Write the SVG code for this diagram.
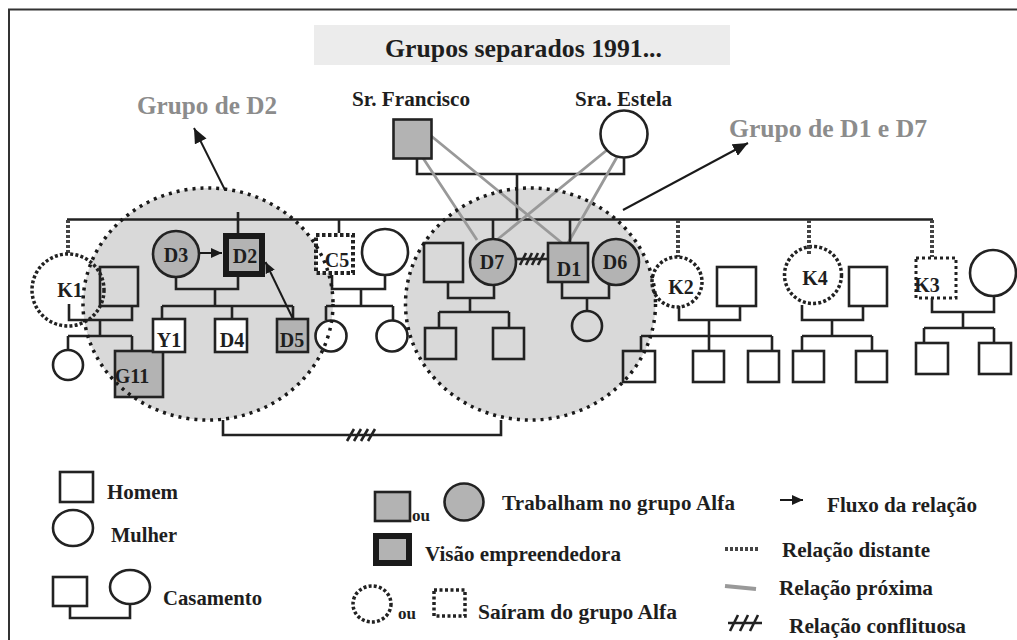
<svg xmlns="http://www.w3.org/2000/svg" width="1017" height="640" viewBox="0 0 1017 640">
<defs>
<style>
.ln{fill:none;stroke:#222;stroke-width:2.6}
.nd{stroke:#222;stroke-width:2.6}
.w{fill:#fff}
.n{fill:none}
.g{fill:#b3b3b3}
.vis{fill:#b3b3b3;stroke:#1a1a1a;stroke-width:6}
.dist{fill:none;stroke:#222;stroke-width:3.5;stroke-dasharray:3 2.2}
.distw{fill:#fff;stroke:#222;stroke-width:3.5;stroke-dasharray:3 2.2}
.distl{fill:none;stroke:#444;stroke-width:4;stroke-dasharray:3 2}
.close{fill:none;stroke:#999;stroke-width:2.8}
.area{fill:#d9d9d9}
.bord{fill:none;stroke:#1a1a1a;stroke-width:3.5;stroke-dasharray:3 5}
.arr{fill:none;stroke:#1a1a1a;stroke-width:2}
.t{font-family:"Liberation Serif","Times New Roman",serif;font-weight:bold;fill:#1e1e1e}
.lab{font-size:20px;text-anchor:middle}
.leg{font-size:21px}
.ou{font-size:17px}
.grp{font-size:25px;fill:#8c8c8c}
.hash{fill:none;stroke:#222;stroke-width:2.6}
</style>
<marker id="ah" viewBox="0 0 10 10" refX="10" refY="5" markerWidth="15" markerHeight="13" preserveAspectRatio="none" markerUnits="userSpaceOnUse" orient="auto"><path d="M0,0 L10,5 L0,10 z" fill="#1a1a1a"/></marker>
<marker id="ahs" viewBox="0 0 10 10" refX="10" refY="5" markerWidth="11" markerHeight="10" preserveAspectRatio="none" markerUnits="userSpaceOnUse" orient="auto"><path d="M0,0 L10,5 L0,10 z" fill="#1a1a1a"/></marker>
</defs>

<path d="M9,640 V9.5 H1017" fill="none" stroke="#333" stroke-width="2"/>

<g id="title">
<rect x="314" y="25" width="416" height="40" fill="#ececec"/>
<text class="t" x="385" y="57" font-size="25" textLength="277" lengthAdjust="spacingAndGlyphs">Grupos separados 1991...</text>
</g>

<g id="grupo-d2-area"><ellipse class="area" cx="208" cy="304" rx="125" ry="116"/></g>
<g id="grupo-d1-d7-area"><ellipse class="area" cx="530.5" cy="304" rx="125" ry="116"/></g>

<g id="connectors">
<path class="ln" d="M417,159 V174 H624 V157.5 M517,174 V220"/>
<path class="ln" d="M67,219.5 H933"/>
<path class="close" d="M430,135 L562,243 M423,158 L477,240 M607,150 L498,239 M617,157 L568,243"/>
<!-- K1 -->
<path class="distl" d="M68,220 V254"/>
<path class="ln" d="M69,304 V320 H132 V306 M100,320 V336 M68,336 H132 M68,336 V350 M132,336 V351"/>
<!-- D2 -->
<path class="ln" d="M238,212 V233 M176,277 V289 H238 V277 M215,289 V306 M162,306 H293 M162,306 V319 M232,306 V319 M293,306 V319"/>
<path class="arr" d="M199,253 L222,253" marker-end="url(#ahs)"/>
<path class="arr" d="M293,319 L265.5,262" marker-end="url(#ahs)"/>
<!-- C5 -->
<path class="ln" d="M339,220 V233 M332,275 V289 H385 V275 M361,289 V306 M326,306 H393 M326,306 V320 M393,306 V320"/>
<!-- D7 / D1 -->
<path class="ln" d="M493,220 V239 M448,282 V298 H494 V285 M470,298 V312 M439,312 H509 M439,312 V328 M509,312 V328"/>
<path class="ln" d="M570,220 V243 M562,282 V298 H609 V284 M587,298 V311"/>
<path class="ln" d="M516,259 H548"/>
<path class="hash" d="M520,265 L526,253 M526,265 L532,253 M532,265 L538,253 M538,265 L544,253"/>
<!-- K2 -->
<path class="distl" d="M678,220 V257"/>
<path class="ln" d="M679,306 V320 H740 V306 M709,320 V336 M641,336 H772 M641,336 V351 M709,336 V351 M772,336 V351"/>
<!-- K4 -->
<path class="distl" d="M809,220 V247"/>
<path class="ln" d="M802,305 V320 H863 V306 M832,320 V336 M802,336 H872 M802,336 V351 M872,336 V351"/>
<!-- K3 -->
<path class="distl" d="M932,220 V257"/>
<path class="ln" d="M932,298 V312 H994 V296 M963,312 V328 M924,328 H994 M924,328 V343 M994,328 V343"/>
<!-- groups -->
<path class="ln" d="M223,420 V435 H501 V420"/>
<path class="hash" d="M347,441 L354,429 M354,441 L361,429 M361,441 L368,429 M368,441 L375,429"/>
<path class="arr" d="M225,190 L194,128" marker-end="url(#ah)"/>
<path class="arr" d="M623,210 L748,143" marker-end="url(#ah)"/>
</g>

<g id="sr-francisco">
<rect class="nd g" x="393.5" y="119.5" width="38" height="39"/>
<text class="t" x="411" y="106" font-size="20" text-anchor="middle" textLength="118" lengthAdjust="spacingAndGlyphs">Sr. Francisco</text>
</g>
<g id="sra-estela">
<circle class="nd w" cx="624" cy="134" r="23.5"/>
<text class="t" x="623.5" y="106" font-size="20" text-anchor="middle" textLength="97" lengthAdjust="spacingAndGlyphs">Sra. Estela</text>
</g>

<g id="k1">
<circle class="dist" cx="68" cy="290" r="36"/>
<text class="t lab" x="70" y="297">K1</text>
</g>
<g id="k1-marido"><rect class="nd n" x="100" y="267" width="38" height="39"/></g>
<g id="k1-filha"><circle class="nd w" cx="68" cy="365" r="15"/></g>
<g id="g11">
<rect class="nd g" x="115" y="351" width="48" height="46"/>
<text class="t lab" x="132" y="383">G11</text>
</g>
<g id="d3">
<circle class="nd g" cx="176" cy="254" r="23"/>
<text class="t lab" x="176" y="262">D3</text>
</g>
<g id="d2">
<rect class="vis" x="226" y="236" width="36" height="38"/>
<text class="t lab" x="245" y="263">D2</text>
</g>
<g id="y1">
<rect class="nd w" x="153" y="319" width="32" height="33"/>
<text class="t lab" x="169" y="347">Y1</text>
</g>
<g id="d4">
<rect class="nd w" x="215" y="319" width="32" height="33"/>
<text class="t lab" x="232" y="347">D4</text>
</g>
<g id="d5">
<rect class="nd g" x="277" y="319" width="31" height="33"/>
<text class="t lab" x="292" y="347">D5</text>
</g>

<g id="c5">
<rect x="316" y="235" width="37" height="38" fill="#fff" stroke="#222" stroke-width="4" stroke-dasharray="3.5 2.5"/>
<text class="t lab" x="337" y="267">C5</text>
</g>
<g id="c5-esposa"><circle class="nd w" cx="385" cy="252" r="23"/></g>
<g id="c5-filha1"><circle class="nd w" cx="331" cy="336" r="15.5"/></g>
<g id="c5-filha2"><circle class="nd w" cx="392" cy="336" r="15.5"/></g>

<g id="d7-marido"><rect class="nd n" x="424" y="243" width="39" height="39"/></g>
<g id="d7">
<circle class="nd g" cx="493" cy="262" r="23"/>
<text class="t lab" x="492" y="269">D7</text>
</g>
<g id="d7-filho1"><rect class="nd n" x="425" y="328" width="31" height="31"/></g>
<g id="d7-filho2"><rect class="nd n" x="493" y="328" width="31" height="31"/></g>
<g id="d1">
<rect class="nd g" x="548" y="243" width="40" height="39"/>
<text class="t lab" x="569" y="276">D1</text>
</g>
<g id="d6">
<circle class="nd g" cx="616" cy="262" r="23"/>
<text class="t lab" x="615" y="269">D6</text>
</g>
<g id="d1-filha"><circle class="nd n" cx="587" cy="326" r="15"/></g>

<g id="k2">
<circle class="dist" cx="677" cy="282" r="25"/>
<text class="t lab" x="681" y="294">K2</text>
</g>
<g id="k2-marido"><rect class="nd w" x="717" y="267" width="39" height="39"/></g>
<g id="k2-filho1"><rect class="nd n" x="623" y="351" width="32" height="31"/></g>
<g id="k2-filho2"><rect class="nd w" x="693" y="351" width="31" height="31"/></g>
<g id="k2-filho3"><rect class="nd w" x="748" y="351" width="31" height="31"/></g>

<g id="k4">
<circle class="distw" cx="813" cy="275" r="28.5"/>
<path class="distl" d="M809,246 V254"/>
<text class="t lab" x="815" y="285">K4</text>
</g>
<g id="k4-marido"><rect class="nd w" x="849" y="267" width="38" height="39"/></g>
<g id="k4-filho1"><rect class="nd w" x="793" y="351" width="31" height="31"/></g>
<g id="k4-filho2"><rect class="nd w" x="856" y="351" width="31" height="31"/></g>

<g id="k3">
<rect x="916" y="258" width="40" height="40" fill="none" stroke="#222" stroke-width="3" stroke-dasharray="3 3"/>
<text class="t lab" x="927" y="292">K3</text>
</g>
<g id="k3-esposa"><circle class="nd w" cx="993" cy="273" r="23"/></g>
<g id="k3-filho1"><rect class="nd w" x="916" y="343" width="32" height="31"/></g>
<g id="k3-filho2"><rect class="nd w" x="979" y="343" width="32" height="31"/></g>

<g id="grupo-d2-border"><ellipse class="bord" cx="208" cy="304" rx="125" ry="116"/></g>
<g id="grupo-d1-d7-border"><ellipse class="bord" cx="530.5" cy="304" rx="125" ry="116"/></g>

<g id="label-grupo-d2"><text class="t grp" x="137" y="114" textLength="140" lengthAdjust="spacingAndGlyphs">Grupo de D2</text></g>
<g id="label-grupo-d1-d7"><text class="t grp" x="729" y="137" textLength="198" lengthAdjust="spacingAndGlyphs">Grupo de D1 e D7</text></g>

<g id="legend">
<rect class="nd w" x="60" y="472" width="33" height="30"/>
<text class="t leg" x="107" y="499" textLength="71" lengthAdjust="spacingAndGlyphs">Homem</text>
<ellipse class="nd w" cx="73" cy="528" rx="20" ry="18"/>
<text class="t leg" x="111" y="542" textLength="66" lengthAdjust="spacingAndGlyphs">Mulher</text>
<rect class="nd w" x="53" y="577" width="34" height="29"/>
<ellipse class="nd w" cx="130" cy="587" rx="20" ry="17"/>
<path class="ln" d="M70,606 V618 H130 V604"/>
<text class="t leg" x="163" y="605" textLength="99" lengthAdjust="spacingAndGlyphs">Casamento</text>

<rect class="nd g" x="375" y="492" width="35" height="29"/>
<text class="t ou" x="412" y="521">ou</text>
<ellipse class="nd g" cx="464" cy="502" rx="19.5" ry="18.5"/>
<text class="t leg" x="502" y="510" textLength="233" lengthAdjust="spacing">Trabalham no grupo Alfa</text>
<rect class="vis" x="376" y="536" width="33" height="27"/>
<text class="t leg" x="425" y="561" textLength="196" lengthAdjust="spacingAndGlyphs">Visão empreendedora</text>
<ellipse class="dist" cx="372" cy="604" rx="19" ry="18"/>
<text class="t ou" x="398" y="619">ou</text>
<rect x="434" y="590" width="31" height="26" fill="none" stroke="#222" stroke-width="3.5" stroke-dasharray="3 2.5"/>
<text class="t leg" x="478" y="619" textLength="199" lengthAdjust="spacingAndGlyphs">Saíram do grupo  Alfa</text>

<path class="arr" d="M780,500 L803,500" stroke-width="2.5" marker-end="url(#ahs)"/>
<text class="t leg" x="827" y="512" textLength="150" lengthAdjust="spacingAndGlyphs">Fluxo da relação</text>
<path class="distl" d="M725,549 H760" stroke-width="3.5"/>
<text class="t leg" x="782" y="557" textLength="148" lengthAdjust="spacingAndGlyphs">Relação distante</text>
<path d="M725,586 L756,589" stroke="#999" stroke-width="4"/>
<text class="t leg" x="779" y="595" textLength="154" lengthAdjust="spacingAndGlyphs">Relação próxima</text>
<path class="hash" d="M728,623 H762 M730,631 L738,615 M740,631 L748,615 M750,631 L758,615"/>
<text class="t leg" x="789" y="633" textLength="177" lengthAdjust="spacingAndGlyphs">Relação conflituosa</text>
</g>
</svg>
